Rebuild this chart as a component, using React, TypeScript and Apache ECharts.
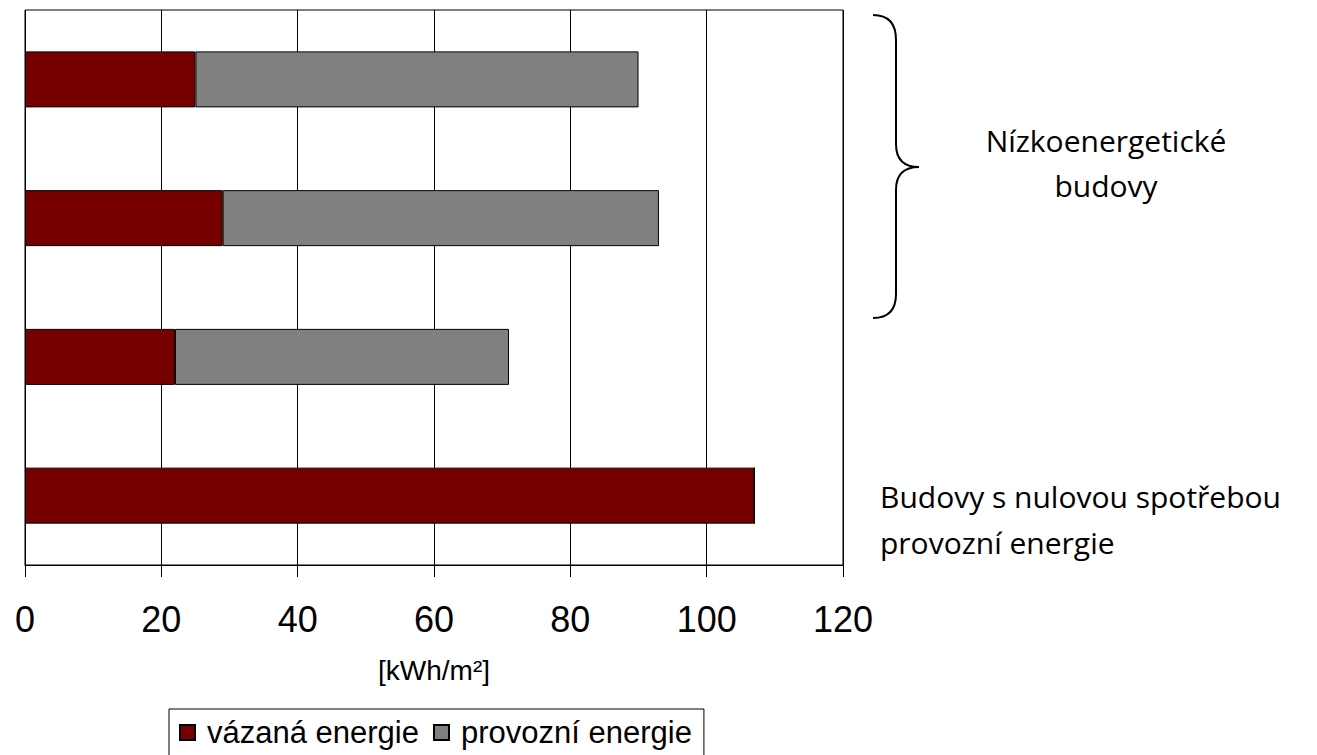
import React, { useEffect, useRef } from "react";
import * as echarts from "echarts";

const categories = ["Budova A", "Budova B", "Budova C", "Budova s nulovou spotřebou"];
const vazanaEnergie = [25, 29, 22, 107];
const provozniEnergie = [65, 64, 49, 0];
const seriesNames = ["vázaná energie", "provozní energie"];
const axisName = "[kWh/m²]";
const braceLabel = "Nízkoenergetické\nbudovy";
const zeroLabel = "Budovy s nulovou spotřebou\nprovozní energie";

const bracePath =
  "M873,15 C889,15 896,24 896,40 L896,144 C896,160 904,167 919,167 C904,167 896,174 896,190 L896,294 C896,310 889,318 873,318";

const sans = "Liberation Sans, Arial, sans-serif";

let registered = false;

export default function App() {
  const ref = useRef<HTMLDivElement>(null);
  useEffect(() => {
    if (!ref.current) return;
    if (!registered) {
      echarts.graphic.registerShape("brace", echarts.graphic.extendPath(bracePath, {}) as any);
      registered = true;
    }
    const chart = echarts.init(ref.current, undefined, { renderer: "svg" });
    const option: any = {
      animation: false,
      backgroundColor: "#fff",
      grid: {
        left: 25,
        right: 474,
        top: 10,
        bottom: 190,
        show: true,
        borderColor: "#000",
        borderWidth: 1,
        containLabel: false,
      },
      xAxis: {
        type: "value",
        min: 0,
        max: 120,
        interval: 20,
        axisLine: { show: true, lineStyle: { color: "#000", width: 1 } },
        axisTick: { show: true, length: 12, lineStyle: { color: "#000", width: 1 } },
        splitLine: { show: true, lineStyle: { color: "#000", width: 1 } },
        axisLabel: {
          fontSize: 36,
          fontFamily: sans,
          color: "#000",
          margin: 36,
        },
        name: axisName,
        nameLocation: "middle",
        nameGap: 91,
        nameTextStyle: {
          fontSize: 28,
          fontFamily: sans,
          color: "#000",
        },
      },
      yAxis: {
        type: "category",
        data: categories,
        inverse: true,
        axisLine: { show: false },
        axisTick: { show: false },
        axisLabel: { show: false },
        splitLine: { show: false },
      },
      legend: {
        left: 169,
        top: 709,
        orient: "horizontal",
        borderColor: "#000",
        borderWidth: 1,
        backgroundColor: "#fff",
        padding: [8, 12, 12, 10],
        itemWidth: 15,
        itemHeight: 15,
        itemGap: 14,
        icon: "rect",
        textStyle: {
          fontSize: 31,
          fontFamily: sans,
          color: "#000",
          padding: [0, 0, 0, 7],
        },
        data: seriesNames,
      },
      series: [
        {
          name: seriesNames[0],
          type: "bar",
          stack: "total",
          barWidth: 56,
          data: vazanaEnergie,
          itemStyle: { color: "#760000", borderColor: "#000", borderWidth: 1 },
        },
        {
          name: seriesNames[1],
          type: "bar",
          stack: "total",
          barWidth: 56,
          data: provozniEnergie,
          itemStyle: { color: "#808080", borderColor: "#000", borderWidth: 1 },
        },
      ],
      graphic: [
        {
          type: "brace",
          x: 0,
          y: 0,
          style: { stroke: "#000", fill: "none", lineWidth: 2 },
        },
        {
          type: "text",
          x: 1106,
          y: 163,
          style: {
            text: braceLabel,
            fontSize: 30,
            fontFamily: "Open Sans, sans-serif",
            fill: "#000",
            align: "center",
            verticalAlign: "middle",
            lineHeight: 45,
          },
        },
        {
          type: "text",
          x: 880,
          y: 519,
          style: {
            text: zeroLabel,
            fontSize: 30,
            fontFamily: "Open Sans, sans-serif",
            fill: "#000",
            align: "left",
            verticalAlign: "middle",
            lineHeight: 46,
          },
        },
      ],
    };
    chart.setOption(option);
    return () => chart.dispose();
  }, []);
  return (
    <div
      ref={ref}
      style={{ position: "absolute", left: 0, top: 0, width: 1317, height: 755 }}
    />
  );
}
